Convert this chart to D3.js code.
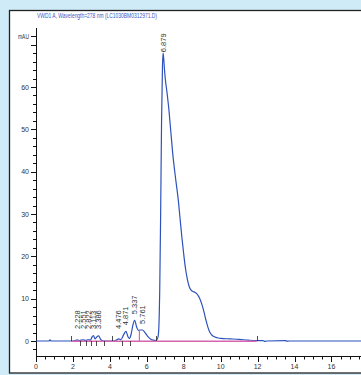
<!DOCTYPE html>
<html>
<head>
<meta charset="utf-8">
<script src="https://cdn.jsdelivr.net/npm/d3@7"></script>
<style>
  html, body { margin: 0; padding: 0; background: #cfebf7; }
  svg { display: block; }
  text { font-family: "Liberation Sans", "DejaVu Sans", sans-serif; }
</style>
</head>
<body>
<svg id="chart" width="361" height="375"></svg>
<script>
(function(){
    "use strict";

    // chromatogram trace (time in min, signal in mAU)
    const timeMin = [0, 0.7, 0.76, 0.82, 1.9, 2.1, 2.23, 2.35, 2.55, 2.69, 2.82, 2.95, 3.03, 3.11, 3.2, 3.28, 3.39, 3.5, 3.65,
        4.2, 4.35, 4.48, 4.6, 4.75, 4.87, 4.98, 5.06, 5.15, 5.25, 5.34, 5.45, 5.55, 5.65, 5.76, 5.9, 6.05, 6.2, 6.35, 6.5,
        6.6, 6.65, 6.7, 6.75, 6.8, 6.85, 6.88, 6.92, 6.96, 7.0, 7.1, 7.2, 7.3, 7.4, 7.5, 7.6, 7.7, 7.8, 7.9, 8.0, 8.1, 8.2,
        8.3, 8.4, 8.5, 8.6, 8.7, 8.8, 8.9, 9.0, 9.1, 9.2, 9.3, 9.4, 9.5, 9.6, 9.8, 10.0, 10.5, 11.0, 11.5, 11.95,
        12.3, 12.4, 12.5, 13.5, 13.6, 13.7, 17.6];
    const signalMAU = [0, 0, 0.3, 0, 0, 0.05, 0.25, 0.1, 0.3, 0.1, 0.3, 0.2, 0.9, 1.3, 0.5, 0.9, 1.2, 0.4, 0,
        0, 0.2, 0.5, 0.3, 1.5, 2.3, 1.0, 0.6, 1.6, 3.8, 4.9, 3.3, 2.5, 2.6, 2.6, 2.0, 1.1, 0.5, 0.2, 0.1,
        0.8, 3, 12, 30, 52, 65, 68, 66.5, 64, 62, 58.5, 54.5, 49.5, 44.5, 40.5, 37, 33.5, 29, 24.5, 20.5, 17, 14.5,
        12.8, 12, 11.7, 11.5, 11.2, 10.6, 9.7, 8.4, 6.8, 5, 3.4, 2.2, 1.5, 1.1, 0.8, 0.6, 0.5, 0.4, 0.2, 0.1,
        0.1, -0.1, 0, 0.1, -0.05, 0, 0];

    const peakTimes = [2.228, 2.551, 2.822, 3.113, 3.386, 4.476, 4.871, 5.337, 5.761, 6.879];
    const peakLabels = ["2.228", "2.551", "2.822", "3.113", "3.386", "4.476", "4.871", "5.337", "5.761", "6.879"];

    const baselineSegments = [[1.9, 6.52], [6.52, 11.95]];
    const markTimes = [1.9, 2.36, 2.69, 2.96, 3.25, 3.68, 4.12, 4.66, 5.08, 6.52, 11.95];
    const markUp = [true, false, false, false, false, false, true, false, false, true, true];
    const dropTimes = [5.6];

    const xTickMajor = [0, 2, 4, 6, 8, 10, 12, 14, 16];
    const yTickMajor = [0, 10, 20, 30, 40, 50, 60];
    const yUnitLabel = "mAU";
    const titleText = "VWD1 A, Wavelength=278 nm (LC1030BM0312971.D)";

    const svg = d3.select("#chart");
    const x = d3.scaleLinear().domain([0, 17.6]).range([36, 361]);
    const y = d3.scaleLinear().domain([0, 60]).range([341, 87]);
    const axisY = 356;

    // white panel
    svg.append("rect")
        .attr("x", 9.5).attr("y", 10.5).attr("width", 360).attr("height", 362.5)
        .attr("fill", "#fff").attr("stroke", "#222").attr("stroke-width", 1.3);

    svg.append("text")
        .attr("x", 37).attr("y", 17.5)
        .attr("font-size", 8)
        .attr("textLength", 120).attr("lengthAdjust", "spacingAndGlyphs")
        .attr("fill", "#3a58c4")
        .text(titleText);

    // y axis
    let g = svg.append("g").attr("stroke", "#111").attr("stroke-width", 1);
    g.append("line").attr("x1", 36.5).attr("x2", 36.5).attr("y1", 28).attr("y2", axisY);
    d3.range(-2, 73, 2).forEach(v => {
        let major = v % 10 === 0 || v === 72;
        g.append("line")
            .attr("x1", major ? 31 : 33).attr("x2", 36.5)
            .attr("y1", Math.round(y(v)) + 0.5).attr("y2", Math.round(y(v)) + 0.5);
    });
    svg.selectAll(".ylab").data(yTickMajor).enter().append("text")
        .attr("x", 29).attr("y", d => y(d) + 2.5)
        .attr("text-anchor", "end").attr("font-size", 7)
        .attr("fill", "#333")
        .text(d => d);
    svg.append("text")
        .attr("x", 29).attr("y", y(72) + 2.5)
        .attr("text-anchor", "end").attr("font-size", 7).attr("fill", "#333")
        .attr("textLength", 11).attr("lengthAdjust", "spacingAndGlyphs")
        .text(yUnitLabel);

    // x axis
    g.append("line").attr("x1", 36).attr("x2", 361).attr("y1", axisY + 0.5).attr("y2", axisY + 0.5);
    d3.range(0, 17.6, 0.5).forEach(v => {
        let major = v % 2 === 0;
        g.append("line")
            .attr("x1", Math.round(x(v)) + 0.5).attr("x2", Math.round(x(v)) + 0.5)
            .attr("y1", axisY).attr("y2", axisY + (major ? 6 : 3.5));
    });
    svg.selectAll(".xlab").data(xTickMajor).enter().append("text")
        .attr("x", d => x(d)).attr("y", 369)
        .attr("text-anchor", "middle").attr("font-size", 7).attr("fill", "#333")
        .text(d => d);

    const signalAt = t => {
        let i = d3.bisectLeft(timeMin, t);
        if (i <= 0) return signalMAU[0];
        let t0 = timeMin[i - 1], t1 = timeMin[i];
        return signalMAU[i - 1] + (signalMAU[i] - signalMAU[i - 1]) * (t - t0) / (t1 - t0);
    };

    // trace
    const pts = timeMin.map((t, i) => [t, signalMAU[i]]);
    svg.append("path")
        .datum(pts)
        .attr("fill", "none")
        .attr("stroke", "#2d52bb")
        .attr("stroke-width", 1.2)
        .attr("d", d3.line().x(d => x(d[0])).y(d => y(d[1])).curve(d3.curveMonotoneX));

    // integration baseline and drops
    baselineSegments.forEach(s => {
        svg.append("line")
            .attr("x1", x(s[0])).attr("x2", x(s[1]))
            .attr("y1", y(0) + 0.3).attr("y2", y(0) + 0.3)
            .attr("stroke", "#d664ae").attr("stroke-width", 1.4);
    });
    dropTimes.forEach(t => {
        svg.append("line")
            .attr("x1", x(t)).attr("x2", x(t))
            .attr("y1", y(0)).attr("y2", y(signalAt(t)))
            .attr("stroke", "#d664ae").attr("stroke-width", 1.2);
    });
    markTimes.forEach((t, i) => {
        svg.append("line")
            .attr("x1", Math.round(x(t)) + 0.5).attr("x2", Math.round(x(t)) + 0.5)
            .attr("y1", markUp[i] ? y(0) - 5 : y(0))
            .attr("y2", markUp[i] ? y(0) : y(0) + 5)
            .attr("stroke", "#222").attr("stroke-width", 0.8);
    });

    // peak labels
    peakTimes.forEach((t, i) => {
        let top = y(d3.max(timeMin.map((tt, j) => Math.abs(tt - t) < 0.08 ? signalMAU[j] : 0)));
        let bottom = i === peakTimes.length - 1 ? top - 1 : Math.min(top - 6, 329);
        svg.append("text")
            .attr("transform", `translate(${x(t) + 2.5},${bottom}) rotate(-90)`)
            .attr("font-size", 7.5)
            .attr("fill", "#333")
            .text(peakLabels[i]);
    });
}());
</script>
</body>
</html>
